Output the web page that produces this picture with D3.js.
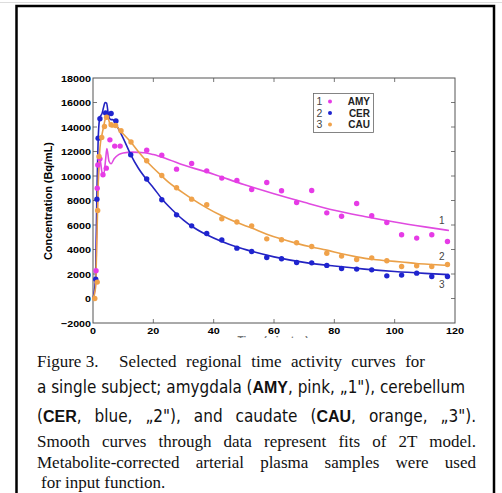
<!DOCTYPE html>
<html>
<head>
<meta charset="utf-8">
<script src="https://cdn.jsdelivr.net/npm/d3@7"></script>
<style>
  body { margin: 0; background: #fff; }
  svg { display: block; }
</style>
</head>
<body>
<div class="figure"></div>
<script>
// sample times shared by the late points
const lateT = [17.8, 22.8, 27.7, 32.7, 37.7, 42.7, 47.7, 52.6, 57.6, 62.5, 67.5, 72.5, 77.5, 82.4, 87.4, 92.4, 97.4, 102.3, 107.3, 112.3, 117.5]

// measured points
const amyT = [1.0, 1.4, 1.6, 2.3, 3.3, 4.4, 5.6, 7.2, 9.0].concat(lateT)
const amyV = [2260, 9000, 10900, 11400, 10100, 10640, 12950, 12440, 12440,
  12110, 11700, 10560, 11020, 10420, 9830, 9630, 8900, 9470, 8790, 7840, 8820, 6990, 6720, 7760, 6750, 6210, 5200, 4930, 5200, 4650]

const cerT = [0.9, 1.3, 1.7, 2.3, 4.2, 6.0, 7.6, 12.5].concat(lateT)
const cerV = [1580, 8110, 13090, 14670, 15150, 15100, 14500, 11730,
  9750, 8060, 6830, 5930, 5310, 4770, 4110, 3840, 3350, 3240, 2940, 2910, 2700, 2450, 2400, 2340, 1850, 1910, 2070, 1800, 1800]

const cauT = [0.6, 1.4, 1.55, 2.0, 2.9, 3.8, 4.5, 6.0, 7.5, 9.3, 12.6].concat(lateT)
const cauV = [0, 1340, 7190, 11600, 13150, 14040, 14800, 14180, 14120, 13690, 12770,
  11240, 10040, 9040, 8110, 7650, 6510, 6240, 5930, 4870, 4790, 4550, 4250, 3700, 3460, 3180, 3320, 3080, 2610, 2670, 2610, 2780]

// 2T model fits
const amyFitT = [0, 0.8, 1.3, 1.8, 2.3, 3.0, 3.6, 4.2, 4.6, 5.3, 6.0, 7.0, 8.5, 10, 13, 17, 20, 25, 30, 40, 50, 60, 70, 80, 90, 100, 110, 118]
const amyFitV = [0, 1000, 6000, 10000, 11400, 10300, 10200, 11400, 12250, 11200, 11000, 11400, 11750, 11880, 11950, 11900, 11750, 11350, 10900, 10150, 9300, 8550, 7850, 7200, 6700, 6250, 5850, 5550]

const cerFitT = [0, 0.8, 1.3, 1.8, 2.3, 3, 3.5, 4, 4.5, 5, 5.5, 6, 6.5, 7, 8, 10, 12.5, 15, 17.8, 20, 22.8, 25, 27.7, 30, 32.7, 37.7, 42.7, 47.7, 52.6, 60, 70, 80, 90, 100, 110, 118]
const cerFitV = [0, 1500, 8500, 13500, 14800, 15100, 15600, 16000, 15950, 15200, 14700, 14600, 14600, 14500, 14050, 13100, 11750, 10650, 9700, 9050, 8150, 7550, 6900, 6400, 5900, 5200, 4650, 4200, 3850, 3400, 2950, 2650, 2400, 2200, 2050, 1950]

const cauFitT = [0, 0.8, 1.3, 1.8, 2.3, 3, 3.5, 4, 4.6, 5.2, 5.8, 6.5, 7.5, 9, 12.6, 15, 17.8, 20, 22.8, 25, 27.7, 30, 32.7, 37.7, 42.7, 47.7, 52.6, 57.6, 62.5, 67.5, 72.5, 77.5, 82.4, 87.4, 92.4, 97.4, 102.3, 107.3, 112.3, 118]
const cauFitV = [0, 800, 5000, 10000, 12300, 13400, 14000, 14600, 15000, 14600, 14100, 14000, 14100, 13700, 12750, 12000, 11200, 10650, 10000, 9500, 9000, 8600, 8150, 7400, 6750, 6200, 5750, 5250, 4850, 4500, 4200, 3950, 3650, 3400, 3200, 3080, 2980, 2860, 2780, 2700]

const xTicks = [0, 20, 40, 60, 80, 100, 120]
const yTicks = [-2000, 0, 2000, 4000, 6000, 8000, 10000, 12000, 14000, 16000, 18000]

const legendNums = ['1', '2', '3']
const legendNames = ['AMY', 'CER', 'CAU']
const colors = ['#e63be6', '#1f24cf', '#f0a24a']
const lineColors = ['#e04ae0', '#2323c2', '#eaa048']

const caption = [
  {parts: [['Figure 3.', 0]], x: 37, y: 367, font: 'serif', width: 0},
  {parts: [['Selected regional time activity curves for', 0]], x: 119, y: 367, font: 'serif', width: 306},
  {parts: [['a single subject; amygdala (', 0], ['AMY', 1], [', pink, \u201E1"), cerebellum', 0]], x: 37, y: 393, font: 'sans', width: 428},
  {parts: [['(', 0], ['CER', 1], [', blue, \u201E2"), and caudate (', 0], ['CAU', 1], [', orange, \u201E3").', 0]], x: 37, y: 422, font: 'sans', width: 439},
  {parts: [['Smooth curves through data represent fits of 2T model.', 0]], x: 37, y: 447, font: 'serif', width: 439},
  {parts: [['Metabolite-corrected arterial plasma samples were used', 0]], x: 37, y: 468, font: 'serif', width: 439},
  {parts: [['for input function.', 0]], x: 41, y: 488, font: 'serif', width: 0}
]

const W = 502, H = 493

const svg = d3.select('.figure').append('svg')
  .attr('width', W)
  .attr('height', H)

svg.append('line')
  .attr('x1', 0).attr('x2', W).attr('y1', 2.5).attr('y2', 2.5)
  .attr('stroke', '#ddd')

const x = d3.scaleLinear().domain([0, 120]).range([93, 455])
const y = d3.scaleLinear().domain([-2000, 18000]).range([323, 78])

// x label, mostly hidden behind the caption
svg.append('clipPath').attr('id', 'xlabclip')
  .append('rect').attr('x', 0).attr('y', 336).attr('width', W).attr('height', 2)
svg.append('text')
  .attr('x', 273).attr('y', 344)
  .attr('text-anchor', 'middle')
  .attr('clip-path', 'url(#xlabclip)')
  .attr('font-family', 'Liberation Sans, Arial, sans-serif')
  .attr('font-weight', 'bold')
  .attr('font-size', 10)
  .attr('fill', '#777')
  .text('Time (minutes)')

const plot = svg.append('g')

// plot box
plot.append('rect')
  .attr('x', x(0)).attr('y', y(18000))
  .attr('width', x(120) - x(0)).attr('height', y(-2000) - y(18000))
  .attr('fill', 'none').attr('stroke', '#555').attr('stroke-width', 1)

const tickLen = 4
const ax = plot.append('g').attr('stroke', '#555').attr('stroke-width', 0.8)
ax.selectAll('.xb').data(xTicks.slice(1, -1)).enter().append('line')
  .attr('x1', d => x(d)).attr('x2', d => x(d))
  .attr('y1', y(-2000)).attr('y2', y(-2000) - tickLen)
ax.selectAll('.xt').data(xTicks.slice(1, -1)).enter().append('line')
  .attr('x1', d => x(d)).attr('x2', d => x(d))
  .attr('y1', y(18000)).attr('y2', y(18000) + tickLen)
ax.selectAll('.yl').data(yTicks.slice(1, -1)).enter().append('line')
  .attr('x1', x(0)).attr('x2', x(0) + tickLen)
  .attr('y1', d => y(d)).attr('y2', d => y(d))
ax.selectAll('.yr').data(yTicks.slice(1, -1)).enter().append('line')
  .attr('x1', x(120)).attr('x2', x(120) - tickLen)
  .attr('y1', d => y(d)).attr('y2', d => y(d))

const tickFont = 'Liberation Sans, Arial, sans-serif'
const fmt = d => d < 0 ? '\u2212' + Math.abs(d) : String(d)

plot.selectAll('.ylab').data(yTicks).enter().append('text')
  .attr('x', 91)
  .attr('y', d => y(d) + 3.5)
  .attr('text-anchor', 'end')
  .attr('font-family', tickFont).attr('font-weight', 'bold').attr('font-size', 9.5)
  .attr('textLength', d => fmt(d).length * 6)
  .attr('lengthAdjust', 'spacingAndGlyphs')
  .text(fmt)

plot.selectAll('.xlab').data(xTicks).enter().append('text')
  .attr('x', d => x(d))
  .attr('y', 334)
  .attr('text-anchor', 'middle')
  .attr('font-family', tickFont).attr('font-weight', 'bold').attr('font-size', 9.5)
  .attr('textLength', d => String(d).length * 6)
  .attr('lengthAdjust', 'spacingAndGlyphs')
  .text(d => d)

plot.append('text')
  .attr('transform', 'translate(52,201) rotate(-90)')
  .attr('text-anchor', 'middle')
  .attr('font-family', tickFont).attr('font-weight', 'bold').attr('font-size', 10)
  .attr('textLength', 118)
  .attr('lengthAdjust', 'spacingAndGlyphs')
  .text('Concentration (Bq/mL)')

// fits
const line = d3.line()
  .x(d => x(d[0]))
  .y(d => y(d[1]))
  .curve(d3.curveMonotoneX)

const fits = [
  d3.zip(amyFitT, amyFitV),
  d3.zip(cerFitT, cerFitV),
  d3.zip(cauFitT, cauFitV)
]
const pts = [
  d3.zip(amyT, amyV),
  d3.zip(cerT, cerV),
  d3.zip(cauT, cauV)
]

fits.forEach((f, i) => {
  plot.append('path')
    .datum(f)
    .attr('d', line)
    .attr('fill', 'none')
    .attr('stroke', lineColors[i])
    .attr('stroke-width', 1.6)
})

pts.forEach((p, i) => {
  plot.selectAll('.pt' + i)
    .data(p)
    .enter()
    .append('circle')
    .attr('class', 'pt' + i)
    .attr('cx', d => x(d[0]))
    .attr('cy', d => y(d[1]))
    .attr('r', 2.7)
    .attr('fill', colors[i])
})

// curve numbers at the right end
const endLabels = [[439, 224], [439, 260], [439, 288]]
plot.selectAll('.endlab').data(legendNums).enter().append('text')
  .attr('x', (d, i) => endLabels[i][0])
  .attr('y', (d, i) => endLabels[i][1])
  .attr('font-family', tickFont).attr('font-size', 10).attr('fill', '#444')
  .text(d => d)

// legend
const lg = plot.append('g')
lg.append('rect')
  .attr('x', 313.5).attr('y', 93.5).attr('width', 60).attr('height', 39)
  .attr('fill', '#fff').attr('stroke', '#666').attr('stroke-width', 0.8)
const rowY = [101.5, 113, 124.5]
lg.selectAll('.ln').data(legendNums).enter().append('text')
  .attr('x', 316.5).attr('y', (d, i) => rowY[i] + 3.8)
  .attr('font-family', tickFont).attr('font-size', 10.5).attr('fill', '#444')
  .text(d => d)
lg.selectAll('.ld').data(legendNums).enter().append('circle')
  .attr('cx', 330).attr('cy', (d, i) => rowY[i])
  .attr('r', 2).attr('fill', (d, i) => colors[i])
lg.selectAll('.lt').data(legendNames).enter().append('text')
  .attr('x', 370).attr('y', (d, i) => rowY[i] + 3.8)
  .attr('text-anchor', 'end')
  .attr('font-family', tickFont).attr('font-weight', 'bold').attr('font-size', 10)
  .attr('fill', '#222')
  .text(d => d)

// caption
const fonts = {
  serif: {family: 'Liberation Serif, Times New Roman, serif', size: 17},
  sans: {family: 'Liberation Sans Narrow, DejaVu Sans Condensed, Liberation Sans, sans-serif', size: 17}
}
caption.forEach(c => {
  const f = fonts[c.font]
  const t = svg.append('text')
    .attr('x', c.x).attr('y', c.y)
    .attr('font-family', f.family).attr('font-size', f.size)
    .attr('fill', '#111')
    .style('white-space', 'pre')
  c.parts.forEach(p => {
    t.append('tspan')
      .attr('font-weight', p[1] ? 'bold' : null)
      .attr('font-family', p[1] ? 'Liberation Sans, Arial, sans-serif' : null)
      .attr('font-size', p[1] ? 16 : null)
      .text(p[0])
  })
  if (c.width) {
    const natural = t.node().getComputedTextLength()
    const text = c.parts.map(p => p[0]).join('')
    const gaps = (text.match(/ /g) || []).length
    if (natural < c.width && gaps > 0) {
      t.attr('word-spacing', (c.width - natural) / gaps)
    } else if (natural > c.width) {
      t.attr('textLength', c.width).attr('lengthAdjust', 'spacingAndGlyphs')
    }
  }
})

// outer frame
svg.append('rect')
  .attr('x', 16.5).attr('y', 6).attr('width', 477.5).attr('height', 520)
  .attr('fill', 'none').attr('stroke', '#000').attr('stroke-width', 2.5)
</script>
</body>
</html>
